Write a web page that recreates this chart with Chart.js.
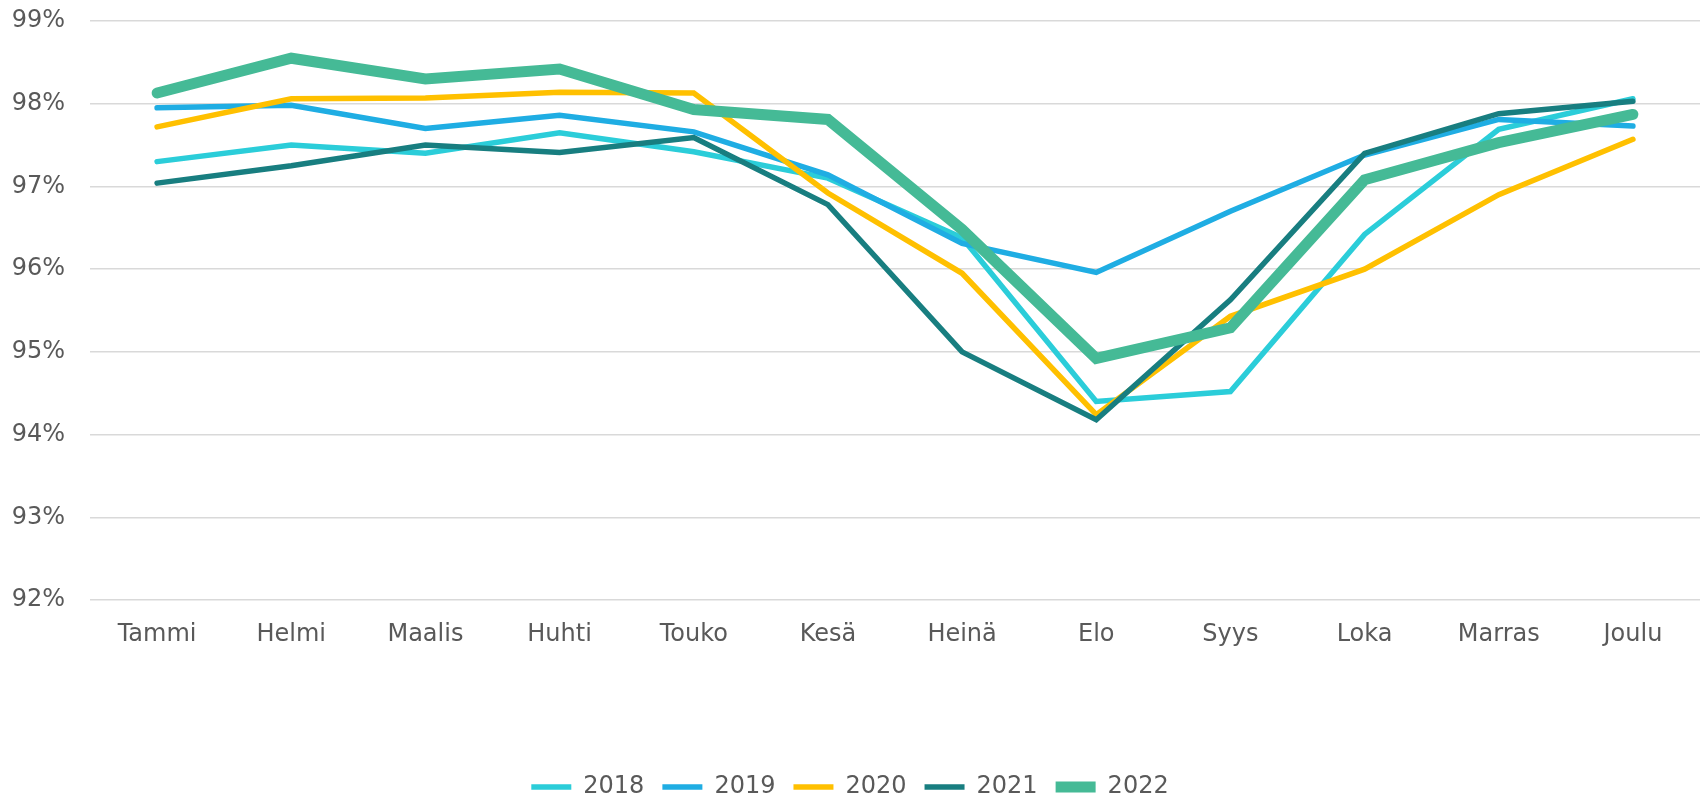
<!DOCTYPE html>
<html>
<head>
<meta charset="utf-8">
<script src="https://cdn.jsdelivr.net/npm/chart.js@4"></script>
<style>
  html, body { margin: 0; padding: 0; background: #ffffff; }
  #wrap { width: 1701px; height: 804px; position: relative; }
</style>
</head>
<body>
<div id="wrap"><canvas id="c" width="1701" height="804"></canvas></div>
<script>
const categories = ["Tammi", "Helmi", "Maalis", "Huhti", "Touko", "Kesä", "Heinä", "Elo", "Syys", "Loka", "Marras", "Joulu"];
const seriesLabels = ["2018", "2019", "2020", "2021", "2022"];
const values2018 = [97.30, 97.50, 97.40, 97.65, 97.42, 97.10, 96.38, 94.40, 94.52, 96.42, 97.69, 98.06];
const values2019 = [97.95, 97.98, 97.70, 97.86, 97.66, 97.14, 96.31, 95.96, 96.70, 97.38, 97.81, 97.73];
const values2020 = [97.72, 98.06, 98.07, 98.14, 98.13, 96.92, 95.95, 94.24, 95.43, 96.00, 96.90, 97.57];
const values2021 = [97.04, 97.25, 97.50, 97.41, 97.59, 96.78, 95.00, 94.18, 95.63, 97.40, 97.88, 98.03];
const values2022 = [98.13, 98.55, 98.30, 98.42, 97.93, 97.81, 96.48, 94.92, 95.29, 97.08, 97.53, 97.87];
const yMin = 92, yMax = 99, yStep = 1;

const colors = ["#2BCDD9", "#1FADE3", "#FFC000", "#187E80", "#45BA96"];
const widths = [5.5, 5.5, 5.5, 5.5, 11];
const allValues = [values2018, values2019, values2020, values2021, values2022];

const FONT = "'DejaVu Sans', sans-serif";
const TEXT = "#595959";

const datasets = seriesLabels.map((lbl, i) => ({
  label: lbl,
  data: allValues[i],
  borderColor: colors[i],
  backgroundColor: colors[i],
  borderWidth: widths[i],
  borderCapStyle: 'round',
  borderJoinStyle: 'miter',
  pointRadius: 0,
  pointHoverRadius: 0,
  tension: 0,
  fill: false,
  order: seriesLabels.length - 1 - i
}));

new Chart(document.getElementById('c'), {
  type: 'line',
  data: { labels: categories, datasets: datasets },
  options: {
    responsive: false,
    animation: false,
    events: [],
    layout: { padding: { top: 21, right: 1, bottom: -5, left: 0 } },
    plugins: {
      tooltip: { enabled: false },
      legend: {
        position: 'bottom',
        labels: {
          usePointStyle: true,
          pointStyle: 'line',
          pointStyleWidth: 40,
          padding: 18,
          color: TEXT,
          font: { family: FONT, size: 24 },
          sort: (a, b) => a.datasetIndex - b.datasetIndex
        }
      }
    },
    scales: {
      x: {
        offset: true,
        grid: { display: false, drawTicks: false },
        border: { display: false },
        ticks: { color: TEXT, font: { family: FONT, size: 24 }, padding: 20, maxRotation: 0 },
        afterFit: s => { s.height = 157; }
      },
      y: {
        min: yMin, max: yMax,
        grid: { color: "#D9D9D9", lineWidth: 1.5, drawTicks: true, tickLength: 25, tickColor: 'rgba(0,0,0,0)' },
        border: { display: false },
        ticks: {
          stepSize: yStep,
          color: TEXT,
          font: { family: FONT, size: 24 },
          padding: 0,
          callback: v => v + '%'
        },
        afterFit: s => { s.width = 90; }
      }
    }
  }
});
</script>
</body>
</html>
